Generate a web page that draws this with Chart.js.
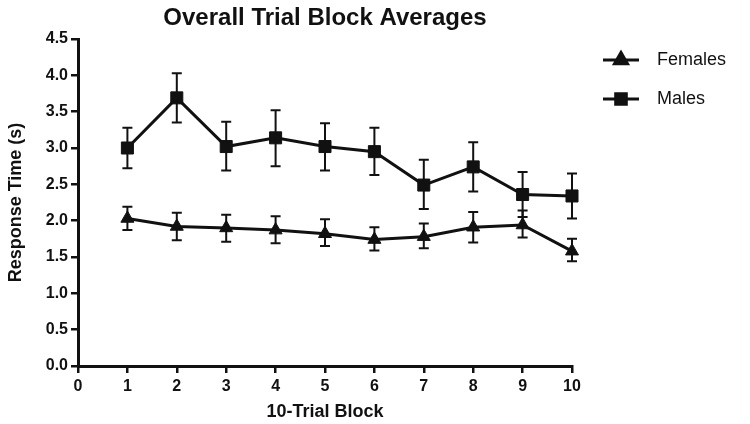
<!DOCTYPE html>
<html>
<head>
<meta charset="utf-8">
<script src="https://cdn.jsdelivr.net/npm/chart.js@4/dist/chart.umd.min.js"></script>
<style>
  html, body { margin: 0; padding: 0; background: #fff; }
  #wrap { width: 750px; height: 424px; }
</style>
</head>
<body>
<div id="wrap"><canvas id="trialChart" width="750" height="424"></canvas></div>
<script>
// values
var blocks = [1, 2, 3, 4, 5, 6, 7, 8, 9, 10]
var femalesMean = [2.03, 1.92, 1.90, 1.87, 1.82, 1.74, 1.78, 1.91, 1.94, 1.58]
var femalesUpper = [2.19, 2.11, 2.08, 2.06, 2.02, 1.91, 1.96, 2.12, 2.14, 1.75]
var femalesLower = [1.87, 1.73, 1.71, 1.69, 1.65, 1.59, 1.62, 1.70, 1.77, 1.44]
var malesMean = [3.00, 3.69, 3.02, 3.14, 3.02, 2.95, 2.49, 2.74, 2.36, 2.34]
var malesUpper = [3.28, 4.03, 3.36, 3.52, 3.34, 3.28, 2.84, 3.08, 2.67, 2.65]
var malesLower = [2.72, 3.35, 2.69, 2.75, 2.69, 2.63, 2.16, 2.40, 2.05, 2.03]
var seriesNames = ['Females', 'Males']

var ink = '#111111'
var fontFamily = '"Liberation Sans", Arial, Helvetica, sans-serif'

function toPoints(ys) {
    return blocks.map(function (b, i) { return { x: b, y: ys[i] } })
}

var errorBarsPlugin = {
    id: 'errorBars',
    beforeDatasetsDraw: function (chart) {
        var ctx = chart.ctx
        var xs = chart.scales.x
        var ys = chart.scales.y
        var bounds = [[femalesUpper, femalesLower], [malesUpper, malesLower]]
        ctx.save()
        ctx.strokeStyle = ink
        ctx.lineWidth = 2
        bounds.forEach(function (pair) {
            blocks.forEach(function (b, i) {
                var px = xs.getPixelForValue(b)
                var top = ys.getPixelForValue(pair[0][i])
                var bot = ys.getPixelForValue(pair[1][i])
                ctx.beginPath()
                ctx.moveTo(px, top); ctx.lineTo(px, bot)
                ctx.moveTo(px - 5, top); ctx.lineTo(px + 5, top)
                ctx.moveTo(px - 5, bot); ctx.lineTo(px + 5, bot)
                ctx.stroke()
            })
        })
        ctx.restore()
    }
}

var sideLegendPlugin = {
    id: 'sideLegend',
    afterDraw: function (chart) {
        var ctx = chart.ctx
        var rows = [
            { label: seriesNames[0], y: 60, style: 'triangle' },
            { label: seriesNames[1], y: 99, style: 'rect' }
        ]
        ctx.save()
        rows.forEach(function (row) {
            ctx.strokeStyle = ink
            ctx.fillStyle = ink
            ctx.lineWidth = 3
            ctx.beginPath()
            ctx.moveTo(603, row.y); ctx.lineTo(639, row.y)
            ctx.stroke()
            Chart.helpers.drawPoint(ctx, {
                pointStyle: row.style,
                radius: 7.5,
                borderWidth: 1
            }, 621, row.y)
            ctx.fill()
            ctx.font = '18px ' + fontFamily
            ctx.textBaseline = 'middle'
            ctx.textAlign = 'left'
            ctx.fillText(row.label, 657, row.y)
        })
        ctx.restore()
    }
}

var trialCanvas = document.getElementById('trialChart').getContext('2d')

var trialChart = new Chart(trialCanvas, {
    type: 'line',
    data: {
        datasets: [
            {
                label: seriesNames[0],
                data: toPoints(femalesMean),
                borderColor: ink,
                backgroundColor: ink,
                borderWidth: 3,
                pointStyle: 'triangle',
                pointRadius: 7.5,
                pointBorderWidth: 1,
                tension: 0,
                clip: false
            },
            {
                label: seriesNames[1],
                data: toPoints(malesMean),
                borderColor: ink,
                backgroundColor: ink,
                borderWidth: 3,
                pointStyle: 'rect',
                pointRadius: 8.5,
                pointBorderWidth: 1,
                tension: 0,
                clip: false
            }
        ]
    },
    options: {
        responsive: false,
        animation: false,
        devicePixelRatio: 1,
        layout: { padding: { left: 0, right: 178, top: 0, bottom: 0 } },
        plugins: {
            legend: { display: false },
            tooltip: { enabled: false },
            title: {
                display: true,
                fullSize: false,
                text: 'Overall Trial Block Averages',
                color: ink,
                font: { family: fontFamily, size: 24, weight: 'bold' },
                padding: { top: 4, bottom: 6.2 }
            }
        },
        scales: {
            x: {
                type: 'linear',
                min: 0,
                max: 10,
                afterFit: function (scale) { scale.height = 58 },
                border: { display: true, color: ink, width: 3 },
                grid: { display: true, drawOnChartArea: false, drawTicks: true, tickLength: 7, color: ink, lineWidth: 2.5 },
                ticks: {
                    stepSize: 1,
                    color: ink,
                    padding: 4,
                    font: { family: fontFamily, size: 16, weight: 'bold' }
                },
                title: {
                    display: true,
                    text: '10-Trial Block',
                    color: ink,
                    font: { family: fontFamily, size: 18, weight: 'bold' },
                    padding: { top: 6, bottom: 1 }
                }
            },
            y: {
                min: 0,
                max: 4.5,
                afterFit: function (scale) { scale.width = 78 },
                border: { display: true, color: ink, width: 3 },
                grid: { display: true, drawOnChartArea: false, drawTicks: true, tickLength: 7, color: ink, lineWidth: 2.5 },
                ticks: {
                    stepSize: 0.5,
                    color: ink,
                    padding: 3,
                    font: { family: fontFamily, size: 16, weight: 'bold' },
                    callback: function (v) { return Number(v).toFixed(1) }
                },
                title: {
                    display: true,
                    text: 'Response Time (s)',
                    color: ink,
                    font: { family: fontFamily, size: 18, weight: 'bold' },
                    padding: { top: 5, bottom: 2 }
                }
            }
        }
    },
    plugins: [errorBarsPlugin, sideLegendPlugin]
})
</script>
</body>
</html>
